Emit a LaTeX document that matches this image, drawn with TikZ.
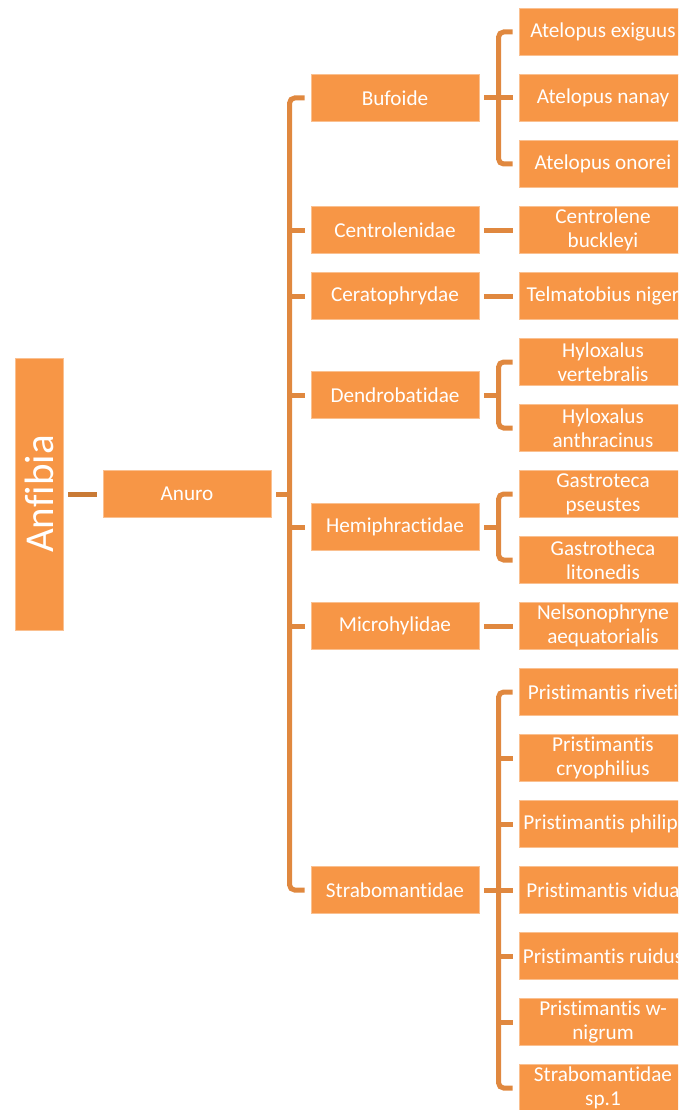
\documentclass[tikz,border=0pt]{standalone}
\usepackage{fontspec}
\setmainfont{Carlito}[Ligatures=CommonOff]
\definecolor{boxfill}{HTML}{F79646}
\definecolor{boxline}{HTML}{FAC090}
\definecolor{linkc}{HTML}{E0883F}
\definecolor{linkdark}{HTML}{C97A35}
\begin{document}
\begin{tikzpicture}[x=1pt,y=-1pt,
  box/.style={rectangle, fill=boxfill, draw=boxline, line width=0.8pt, text=white,
    minimum width=168pt, minimum height=47pt, inner sep=0pt, align=center,
    font=\fontsize{21.2}{23.8}\selectfont},
  link/.style={draw=linkc, line width=5pt},
  rootlink/.style={draw=linkdark, line width=5pt},
  bracket/.style={link, rounded corners=5pt}]
\clip (0,0) rectangle (678,1110);
\useasboundingbox (0,0) rectangle (678,1110);

% root and order
\node[box, minimum width=272pt, minimum height=48pt, rotate=90,
  font=\fontsize{41}{41}\selectfont] (anfibia) at (39,494) {Anfibia};
\node[box] (anuro) at (187,494) {Anuro};

% families
\node[box] (buf) at (395,98) {Bufoide};
\node[box] (cen) at (395,230) {Centrolenidae};
\node[box] (cer) at (395,296) {Ceratophrydae};
\node[box] (den) at (395,395) {Dendrobatidae};
\node[box] (hem) at (395,527) {Hemiphractidae};
\node[box] (mic) at (395,626) {Microhylidae};
\node[box] (str) at (395,890) {Strabomantidae};

% species
\node[box] (s1) at (603,32) {Atelopus exiguus};
\node[box] (s2) at (603,98) {Atelopus nanay};
\node[box] (s3) at (603,164) {Atelopus onorei};
\node[box] (s4) at (603,230) {Centrolene\\buckleyi};
\node[box] (s5) at (603,296) {Telmatobius niger};
\node[box] (s6) at (603,362) {Hyloxalus\\vertebralis};
\node[box] (s7) at (603,428) {Hyloxalus\\anthracinus};
\node[box] (s8) at (603,494) {Gastroteca\\pseustes};
\node[box] (s9) at (603,560) {Gastrotheca\\litonedis};
\node[box] (s10) at (603,626) {Nelsonophryne\\aequatorialis};
\node[box] (s11) at (603,692) {Pristimantis riveti};
\node[box] (s12) at (603,758) {Pristimantis\\cryophilius};
\node[box] (s13) at (603,824) {Pristimantis philipi};
\node[box] (s14) at (603,890) {Pristimantis vidua};
\node[box] (s15) at (603,956) {Pristimantis ruidus};
\node[box] (s16) at (603,1022) {Pristimantis w-\\nigrum};
\node[box] (s17) at (603,1088) {Strabomantidae\\sp.1};

% root link
\draw[rootlink, shorten <=5pt, shorten >=6pt] (anfibia) -- (anuro);

% main bracket
\coordinate (trunk) at (290,494);
\draw[link] ([xshift=5pt]anuro.east) -- (trunk);
\draw[bracket] ([xshift=-6pt]buf.west) -- ++(-15,0) |- ([xshift=-6pt]str.west);
\foreach \f in {cen,cer,den,hem,mic}
  \draw[link] ([xshift=-6pt]\f.west) -- ++(-15,0);

% Bufoide
\draw[bracket] ([xshift=-6pt]s1.west) -- ++(-14,0) |- ([xshift=-6pt]s3.west);
\draw[link] ([xshift=5pt]buf.east) -- ([xshift=-6pt]s2.west);
% single children
\draw[link] ([xshift=5pt]cen.east) -- ([xshift=-6pt]s4.west);
\draw[link] ([xshift=5pt]cer.east) -- ([xshift=-6pt]s5.west);
\draw[link] ([xshift=5pt]mic.east) -- ([xshift=-6pt]s10.west);
% Dendrobatidae
\draw[bracket] ([xshift=-6pt]s6.west) -- ++(-14,0) |- ([xshift=-6pt]s7.west);
\draw[link] ([xshift=5pt]den.east) -- ++(15,0);
% Hemiphractidae
\draw[bracket] ([xshift=-6pt]s8.west) -- ++(-14,0) |- ([xshift=-6pt]s9.west);
\draw[link] ([xshift=5pt]hem.east) -- ++(15,0);
% Strabomantidae
\draw[bracket] ([xshift=-6pt]s11.west) -- ++(-14,0) |- ([xshift=-6pt]s17.west);
\foreach \s in {s12,s13,s15,s16}
  \draw[link] ([xshift=-6pt]\s.west) -- ++(-14,0);
\draw[link] ([xshift=5pt]str.east) -- ([xshift=-6pt]s14.west);
\end{tikzpicture}
\end{document}
